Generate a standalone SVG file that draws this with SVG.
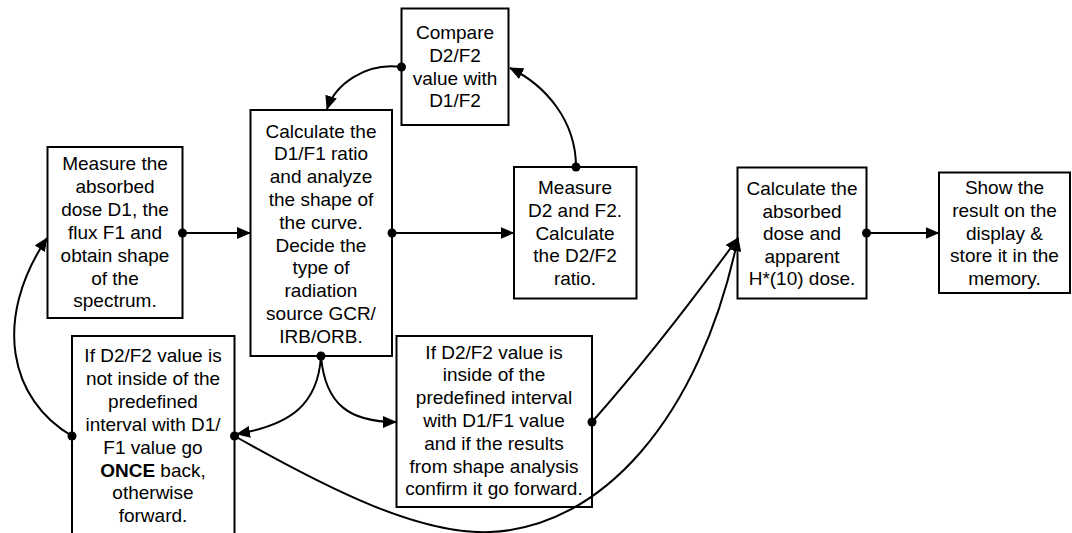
<svg xmlns="http://www.w3.org/2000/svg" width="1072" height="533" viewBox="0 0 1072 533">
<style>
.box{fill:#fff;stroke:#000;stroke-width:2}
.t{font-family:"Liberation Sans",Arial,sans-serif;font-size:19px;fill:#000;text-anchor:middle}
.c{fill:none;stroke:#000;stroke-width:2}
.d{fill:#000}
.b{font-weight:bold}
</style>
<defs>
<marker id="ah" markerUnits="userSpaceOnUse" markerWidth="14" markerHeight="12" refX="13" refY="6" orient="auto">
<path d="M0,0 L14,6 L0,12 z" fill="#000"/>
</marker>
</defs>
<rect width="1072" height="533" fill="#fff"/>

<g id="nodeA">
<rect class="box" x="47.5" y="147" width="135" height="171"/>
<text class="t" y="170"><tspan x="115">Measure the</tspan><tspan x="115" dy="22.9">absorbed</tspan><tspan x="115" dy="22.9">dose D1, the</tspan><tspan x="115" dy="22.9">flux F1 and</tspan><tspan x="115" dy="22.9">obtain shape</tspan><tspan x="115" dy="22.9">of the</tspan><tspan x="115" dy="22.9">spectrum.</tspan></text>
</g>

<g id="nodeB">
<rect class="box" x="250.5" y="110" width="141.5" height="246"/>
<text class="t" y="137.5"><tspan x="321">Calculate the</tspan><tspan x="321" dy="22.8">D1/F1 ratio</tspan><tspan x="321" dy="22.8">and analyze</tspan><tspan x="321" dy="22.8">the shape of</tspan><tspan x="321" dy="22.8">the curve.</tspan><tspan x="321" dy="22.8">Decide the</tspan><tspan x="321" dy="22.8">type of</tspan><tspan x="321" dy="22.8">radiation</tspan><tspan x="321" dy="22.8">source GCR/</tspan><tspan x="321" dy="22.8">IRB/ORB.</tspan></text>
</g>

<g id="nodeCompare">
<rect class="box" x="401.5" y="8.5" width="107" height="116.5"/>
<text class="t" y="39"><tspan x="455">Compare</tspan><tspan x="455" dy="22.8">D2/F2</tspan><tspan x="455" dy="22.8">value with</tspan><tspan x="455" dy="22.8">D1/F2</tspan></text>
</g>

<g id="nodeM">
<rect class="box" x="514" y="167" width="122.5" height="131.5"/>
<text class="t" y="194"><tspan x="575">Measure</tspan><tspan x="575" dy="22.8">D2 and F2.</tspan><tspan x="575" dy="22.8">Calculate</tspan><tspan x="575" dy="22.8">the D2/F2</tspan><tspan x="575" dy="22.8">ratio.</tspan></text>
</g>

<g id="nodeE">
<rect class="box" x="737.5" y="167.5" width="129" height="131"/>
<text class="t" y="195"><tspan x="802">Calculate the</tspan><tspan x="802" dy="22.5">absorbed</tspan><tspan x="802" dy="22.5">dose and</tspan><tspan x="802" dy="22.5">apparent</tspan><tspan x="802" dy="22.5">H*(10) dose.</tspan></text>
</g>

<g id="nodeF">
<rect class="box" x="939" y="172.5" width="131" height="120.5"/>
<text class="t" y="194"><tspan x="1004.5">Show the</tspan><tspan x="1004.5" dy="22.8">result on the</tspan><tspan x="1004.5" dy="22.8">display &amp;</tspan><tspan x="1004.5" dy="22.8">store it in the</tspan><tspan x="1004.5" dy="22.8">memory.</tspan></text>
</g>

<g id="nodeD">
<rect class="box" x="72" y="336" width="162.5" height="210"/>
<text class="t" y="362"><tspan x="153">If D2/F2 value is</tspan><tspan x="153" dy="22.9">not inside of the</tspan><tspan x="153" dy="22.9">predefined</tspan><tspan x="153" dy="22.9">interval with D1/</tspan><tspan x="153" dy="22.9">F1 value go</tspan><tspan x="153" dy="22.9"><tspan class="b">ONCE</tspan> back,</tspan><tspan x="153" dy="22.9">otherwise</tspan><tspan x="153" dy="22.9">forward.</tspan></text>
</g>

<g id="nodeC">
<rect class="box" x="396.5" y="336" width="195.5" height="171"/>
<text class="t" y="358.5"><tspan x="494">If D2/F2 value is</tspan><tspan x="494" dy="22.8">inside of the</tspan><tspan x="494" dy="22.8">predefined interval</tspan><tspan x="494" dy="22.8">with D1/F1 value</tspan><tspan x="494" dy="22.8">and if the results</tspan><tspan x="494" dy="22.8">from shape analysis</tspan><tspan x="494" dy="22.8">confirm it go forward.</tspan></text>
</g>

<g id="connectors">
<path class="c" d="M182.5,233 L250,233" marker-end="url(#ah)"/>
<path class="c" d="M392,233 L513.5,233" marker-end="url(#ah)"/>
<path class="c" d="M576,167 C576,120 545,85 510,68" marker-end="url(#ah)"/>
<path class="c" d="M401.5,67 C365,62 335,85 327,109" marker-end="url(#ah)"/>
<path class="c" d="M321,356 C318,405 290,425 237,434" marker-end="url(#ah)"/>
<path class="c" d="M321,356 C325,405 350,422 396,422" marker-end="url(#ah)"/>
<path class="c" d="M72,436 C10,400 -8,320 47,238" marker-end="url(#ah)"/>
<path class="c" d="M234.5,436 C330,490 420,535 490,532 C600,528 700,420 738,238" marker-end="url(#ah)"/>
<path class="c" d="M592,422 Q660,345 738,238" marker-end="url(#ah)"/>
<path class="c" d="M866.5,233 L938.5,233" marker-end="url(#ah)"/>
<circle class="d" cx="182.5" cy="233" r="4.5"/>
<circle class="d" cx="392" cy="233" r="4.5"/>
<circle class="d" cx="576" cy="167" r="4.5"/>
<circle class="d" cx="401.5" cy="67" r="4.5"/>
<circle class="d" cx="321" cy="356" r="4.5"/>
<circle class="d" cx="72" cy="436" r="4.5"/>
<circle class="d" cx="234.5" cy="436" r="4.5"/>
<circle class="d" cx="592" cy="422" r="4.5"/>
<circle class="d" cx="866.5" cy="233" r="4.5"/>
</g>
</svg>
